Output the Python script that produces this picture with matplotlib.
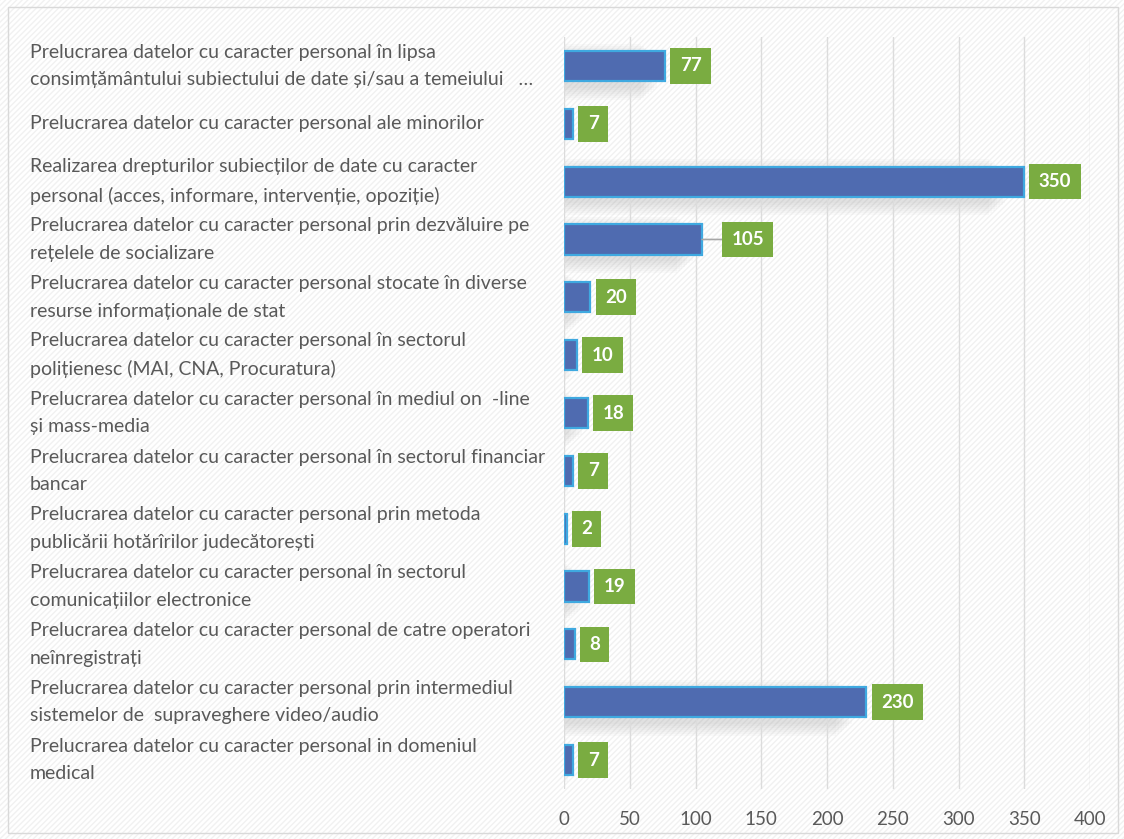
import matplotlib.pyplot as plt
from matplotlib.patches import Rectangle
import numpy as np

plt.rcParams['font.family'] = ['Lato', 'DejaVu Sans']

categories = [
    "Prelucrarea datelor cu caracter personal în lipsa\nconsimțământului subiectului de date și/sau a temeiului   …",
    "Prelucrarea datelor cu caracter personal ale minorilor",
    "Realizarea drepturilor subiecților de date cu caracter\npersonal (acces, informare, intervenție, opoziție)",
    "Prelucrarea datelor cu caracter personal prin dezvăluire pe\nrețelele de socializare",
    "Prelucrarea datelor cu caracter personal stocate în diverse\nresurse informaționale de stat",
    "Prelucrarea datelor cu caracter personal în sectorul\npolițienesc (MAI, CNA, Procuratura)",
    "Prelucrarea datelor cu caracter personal în mediul on  -line\nși mass-media",
    "Prelucrarea datelor cu caracter personal în sectorul financiar\nbancar",
    "Prelucrarea datelor cu caracter personal prin metoda\npublicării hotărîrilor judecătorești",
    "Prelucrarea datelor cu caracter personal în sectorul\ncomunicațiilor electronice",
    "Prelucrarea datelor cu caracter personal de catre operatori\nneînregistrați",
    "Prelucrarea datelor cu caracter personal prin intermediul\nsistemelor de  supraveghere video/audio",
    "Prelucrarea datelor cu caracter personal in domeniul\nmedical",
]
values = [77, 7, 350, 105, 20, 10, 18, 7, 2, 19, 8, 230, 7]
x_ticks = [0, 50, 100, 150, 200, 250, 300, 350, 400]

bar_color = '#4f6bb0'
edge_color = '#3fa9e0'
label_green = '#7aac41'
text_gray = '#595959'

fig = plt.figure(figsize=(11.24, 8.39), dpi=100)
fig.patch.set_facecolor('white')

# faint diagonal texture and outer border
fig.patches.append(Rectangle((0, 0), 1, 1, transform=fig.transFigure, facecolor='none',
                             edgecolor='#f1f1f1', hatch='//////', linewidth=0, zorder=-10))
fig.patches.append(Rectangle((8 / 1124, 6 / 839), 1110 / 1124, 826 / 839, transform=fig.transFigure,
                             facecolor='none', edgecolor='#d9d9d9', linewidth=1.0, zorder=5))

ax = fig.add_axes([564 / 1124, 50 / 839, 526 / 1124, 752 / 839])
ax.set_facecolor('none')

y = np.arange(len(values))

# soft shadows behind the bars
for k in range(7):
    grow = 0.07 * k
    ax.barh(y + 0.1, np.array(values) * 0.97, height=0.55 + grow, left=-4 - 2 * k,
            color='#909090', alpha=0.04, linewidth=0, zorder=1)

ax.barh(y, values, height=0.52, color=bar_color, edgecolor=edge_color, linewidth=1.6, zorder=3)

box = dict(boxstyle='square,pad=0.5', fc=label_green, ec='none')
for yi, v in zip(y, values):
    if v == 105:
        ax.annotate(str(v), xy=(v, yi), xytext=(21, 0), textcoords='offset points',
                    ha='left', va='center', color='white', fontsize=13.5, fontweight='bold',
                    bbox=box, arrowprops=dict(arrowstyle='-', color='#a6a6a6', lw=1.2,
                                              shrinkA=0, shrinkB=0), zorder=4)
    else:
        ax.annotate(str(v), xy=(v, yi), xytext=(10.5, 0), textcoords='offset points',
                    ha='left', va='center', color='white', fontsize=13.5, fontweight='bold',
                    bbox=box, zorder=4)

ax.set_xlim(0, 400)
ax.set_ylim(len(values) - 0.5, -0.5)
ax.set_xticks(x_ticks)
ax.set_xticklabels([str(t) for t in x_ticks], color=text_gray, fontsize=13.5)
ax.tick_params(axis='x', length=0, pad=16)
ax.set_yticks([])
ax.grid(axis='x', color='#dcdcdc', linewidth=1.0, zorder=0)
for s in ax.spines.values():
    s.set_visible(False)

trans = ax.get_yaxis_transform()
for yi, lab in zip(y, categories):
    ax.text(-534 / 526, yi, lab, transform=trans, ha='left', va='center',
            fontsize=14, color=text_gray, linespacing=1.75)

fig.savefig('out.png', dpi=100)
